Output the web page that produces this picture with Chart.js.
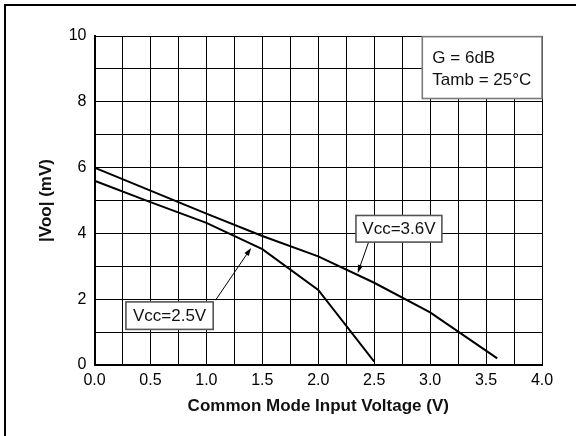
<!DOCTYPE html>
<html lang="en">
  <head>
    <meta charset="UTF-8" />
    <title>Voo vs Common Mode Input Voltage</title>
    <script src="https://cdn.jsdelivr.net/npm/chart.js"></script>
    <style>
      body { margin: 0; background: #fff; }
    </style>
  </head>
  <body>
    <canvas id="vooChart" width="576" height="436"></canvas>

    <script>
    // data
    const vcmx36 = [0, 0.5, 1.0, 1.5, 2.0, 2.5, 3.0, 3.6];
    const voo36 = [6.0, 5.3, 4.6, 3.92, 3.3, 2.5, 1.6, 0.2];
    const vcmx25 = [0, 0.5, 1.0, 1.5, 2.0, 2.5];
    const voo25 = [5.6, 4.95, 4.32, 3.52, 2.28, 0.1];
    const xTicks = [0, 0.5, 1.0, 1.5, 2.0, 2.5, 3.0, 3.5, 4.0];
    const yTicks = [0, 2, 4, 6, 8, 10];
    const noteLines = ['G = 6dB', 'Tamb = 25\u00B0C'];
    const labels = ['Vcc=3.6V', 'Vcc=2.5V'];

    const FONT = '"Liberation Sans", Arial, sans-serif';

    const toPts = (xs, ys) => xs.map((x, i) => ({x: x, y: ys[i]}));

    // callouts in data units
    const callouts = [
        {text: labels[0], box: [2.337, 4.545, 3.105, 3.736], from: [2.45, 3.736], to: [2.353, 2.80]},
        {text: labels[1], box: [0.281, 1.918, 1.061, 1.082], from: [1.082, 1.97], to: [1.40, 3.56]},
    ];

    function arrow(ctx, x1, y1, x2, y2) {
        const a = Math.atan2(y2 - y1, x2 - x1);
        const len = 8, w = 2.6;
        ctx.beginPath();
        ctx.moveTo(x1, y1);
        ctx.lineTo(x2 - Math.cos(a) * len * 0.8, y2 - Math.sin(a) * len * 0.8);
        ctx.stroke();
        ctx.beginPath();
        ctx.moveTo(x2, y2);
        ctx.lineTo(x2 - Math.cos(a) * len - Math.sin(a) * w, y2 - Math.sin(a) * len + Math.cos(a) * w);
        ctx.lineTo(x2 - Math.cos(a) * len + Math.sin(a) * w, y2 - Math.sin(a) * len - Math.cos(a) * w);
        ctx.closePath();
        ctx.fill();
    }

    Chart.register({
        id: 'frameAndNotes',
        beforeDraw(chart) {
            const {ctx, width, height} = chart;
            ctx.save();
            ctx.fillStyle = '#fff';
            ctx.fillRect(0, 0, width, height);
            ctx.strokeStyle = '#000';
            ctx.lineWidth = 2;
            ctx.beginPath();
            ctx.moveTo(5, height);
            ctx.lineTo(5, 5);
            ctx.lineTo(width, 5);
            ctx.stroke();
            ctx.restore();
        },
        afterDatasetsDraw(chart) {
            const {ctx, scales: {x, y}} = chart;
            ctx.save();

            // condition box, top right
            const bx1 = x.getPixelForValue(2.93), bx2 = x.getPixelForValue(4.0);
            const by1 = y.getPixelForValue(9.98), by2 = y.getPixelForValue(8.1);
            ctx.fillStyle = '#fff';
            ctx.fillRect(bx1, by1, bx2 - bx1, by2 - by1);
            ctx.strokeStyle = '#7a7a7a';
            ctx.lineWidth = 1.6;
            ctx.strokeRect(bx1, by1, bx2 - bx1, by2 - by1);
            ctx.fillStyle = '#111';
            ctx.font = '17px ' + FONT;
            ctx.textBaseline = 'middle';
            ctx.textAlign = 'left';
            ctx.fillText(noteLines[0], x.getPixelForValue(3.02), y.getPixelForValue(9.31));
            ctx.fillText(noteLines[1], x.getPixelForValue(3.02), y.getPixelForValue(8.66));

            // curve callouts
            callouts.forEach(c => {
                const l = x.getPixelForValue(c.box[0]), t = y.getPixelForValue(c.box[1]);
                const r = x.getPixelForValue(c.box[2]), b = y.getPixelForValue(c.box[3]);
                ctx.strokeStyle = '#000';
                ctx.fillStyle = '#000';
                ctx.lineWidth = 1;
                arrow(ctx, x.getPixelForValue(c.from[0]), y.getPixelForValue(c.from[1]),
                      x.getPixelForValue(c.to[0]), y.getPixelForValue(c.to[1]));
                ctx.fillStyle = '#fff';
                ctx.fillRect(l, t, r - l, b - t);
                ctx.strokeStyle = '#555';
                ctx.lineWidth = 1.6;
                ctx.strokeRect(l, t, r - l, b - t);
                ctx.fillStyle = '#111';
                ctx.textAlign = 'center';
                ctx.fillText(c.text, (l + r) / 2, (t + b) / 2 + 1);
            });
            ctx.restore();
        }
    });

    const ctx = document.getElementById('vooChart').getContext('2d');
    new Chart(ctx, {
        type: 'line',
        data: {
            datasets: [{
                label: labels[0],
                data: toPts(vcmx36, voo36),
                borderColor: '#000',
                borderWidth: 2,
                pointRadius: 0,
                tension: 0,
            }, {
                label: labels[1],
                data: toPts(vcmx25, voo25),
                borderColor: '#000',
                borderWidth: 2,
                pointRadius: 0,
                tension: 0,
            }]
        },
        options: {
            responsive: false,
            animation: false,
            layout: {padding: {top: 36, right: 34, left: 0, bottom: 0}},
            plugins: {
                legend: {display: false},
                tooltip: {enabled: false},
            },
            scales: {
                x: {
                    type: 'linear',
                    min: 0,
                    max: 4,
                    afterFit(scale) { scale.height = 71; },
                    afterBuildTicks(scale) {
                        const t = [];
                        for (let i = 0; i <= 16; i++) t.push({value: i * 0.25});
                        scale.ticks = t;
                    },
                    ticks: {
                        autoSkip: false,
                        maxRotation: 0,
                        padding: 6,
                        color: '#000',
                        font: {family: FONT, size: 16},
                        callback: v => xTicks.some(t => Math.abs(t - v) < 1e-6) ? v.toFixed(1) : '',
                    },
                    grid: {color: '#000', lineWidth: 1, drawTicks: false},
                    border: {color: '#000', width: 2},
                    title: {
                        display: true,
                        text: 'Common Mode Input Voltage (V)',
                        color: '#111',
                        font: {family: FONT, size: 17, weight: 'bold'},
                        padding: {top: 0, bottom: 19},
                    },
                },
                y: {
                    min: 0,
                    max: 10,
                    afterFit(scale) { scale.width = 94.5; },
                    afterBuildTicks(scale) {
                        const t = [];
                        for (let i = 0; i <= 10; i++) t.push({value: i});
                        scale.ticks = t;
                    },
                    ticks: {
                        autoSkip: false,
                        padding: 8,
                        color: '#000',
                        font: {family: FONT, size: 16},
                        callback: v => yTicks.includes(v) ? String(v) : '',
                    },
                    grid: {color: '#000', lineWidth: 1, drawTicks: false},
                    border: {color: '#000', width: 2},
                    title: {
                        display: true,
                        text: '|Voo| (mV)',
                        color: '#111',
                        font: {family: FONT, size: 17, weight: 'bold'},
                        padding: {top: 36, bottom: 0},
                    },
                },
            },
        },
    });
    </script>
  </body>
</html>
